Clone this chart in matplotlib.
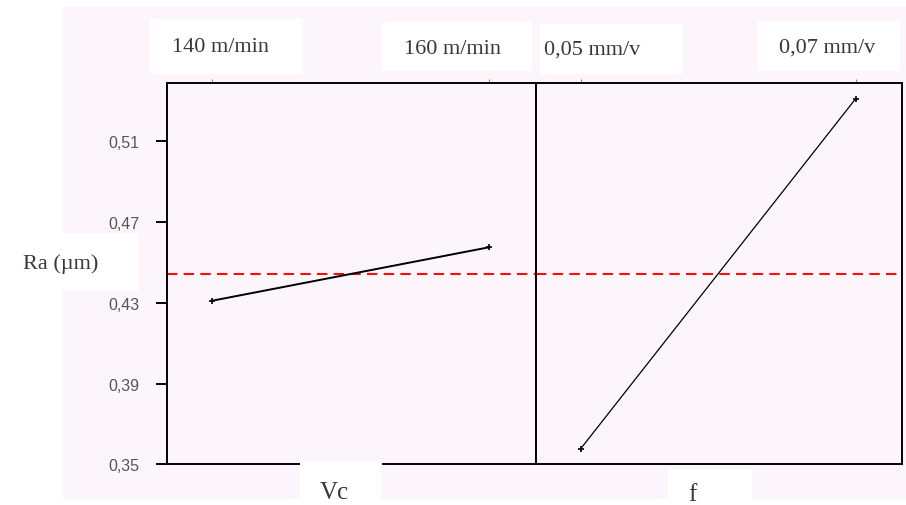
import matplotlib
matplotlib.use("Agg")
import matplotlib.pyplot as plt
from matplotlib.patches import Rectangle

# ---- data ----
vc_levels = ["140 m/min", "160 m/min"]
vc_means = [0.431, 0.4575]
f_levels = ["0,05 mm/v", "0,07 mm/v"]
f_means = [0.3577, 0.531]
grand_mean = 0.4444
y_ticks = [0.35, 0.39, 0.43, 0.47, 0.51]
y_ticklabels = ["0,35", "0,39", "0,43", "0,47", "0,51"]
y_label = "Ra (\u00b5m)"
factor_names = ["Vc", "f"]

W, H = 906, 506
fig = plt.figure(figsize=(W / 100, H / 100), dpi=100)
fig.patch.set_facecolor("white")
PINK = "#fcf5fc"

def fx(x):
    return x / W

def fy(y):
    return 1 - y / H

def box(x0, y0, x1, y1, color="white", z=2):
    fig.add_artist(Rectangle((fx(x0), fy(y1)), fx(x1) - fx(x0), fy(y0) - fy(y1),
                             transform=fig.transFigure, facecolor=color,
                             edgecolor="none", zorder=z))

# pink background panel
box(63, 8, 906, 500, color=PINK, z=-1)

left, mid, right = 167, 536, 902
top, bottom = 84.3, 465.3
ylim = (0.35, 0.5387)
xlim = (-0.1625, 1.169)

ax1 = fig.add_axes([fx(left), fy(bottom), fx(mid) - fx(left), fy(top) - fy(bottom)])
ax2 = fig.add_axes([fx(mid), fy(bottom), fx(right) - fx(mid), fy(top) - fy(bottom)])

serif = ["Liberation Serif", "DejaVu Serif"]
sans = ["Liberation Sans", "DejaVu Sans"]

for ax, vals, lw in [(ax1, vc_means, 1.4), (ax2, f_means, 0.9)]:
    ax.set_facecolor(PINK)
    ax.set_xlim(*xlim)
    ax.set_ylim(*ylim)
    ax.plot([0, 1], vals, color="black", lw=lw, marker="+", ms=4, mew=1.2, zorder=3)
    ax.axhline(grand_mean, color="#ee1111", lw=1.5, dashes=(5, 3), zorder=2)
    for s in ax.spines.values():
        s.set_linewidth(1.4)
        s.set_color("black")
    ax.set_xticks([0, 1])
    ax.tick_params(axis="x", bottom=False, labelbottom=False, top=True,
                   direction="out", length=3, color="#888888", labeltop=False)

ax1.set_yticks(y_ticks)
ax1.set_yticklabels(y_ticklabels, fontfamily=sans, fontsize=11.5, color="#555555")
ax1.tick_params(axis="y", direction="out", length=8, width=1.4, pad=12)
ax2.tick_params(axis="y", left=False, labelleft=False)

# label boxes
box(150, 20, 303, 75)
box(382, 23, 532, 72)
box(540, 25, 683, 75)
box(758, 22, 900, 72)
box(0, 234, 138, 292)
box(300, 462, 382, 506)
box(668, 470, 752, 500)

def ftext(x, y, s, **kw):
    fig.text(fx(x), fy(y), s, fontfamily=serif, fontsize=16, color="#383838",
             ha="center", va="center", zorder=5, **kw)

ftext(220, 47, vc_levels[0])
ftext(453, 50, vc_levels[1])
ftext(592, 50, f_levels[0])
ftext(827, 48, f_levels[1])
ftext(61, 264, y_label)
fig.text(fx(334), fy(482), factor_names[0], fontfamily=serif, fontsize=18,
         color="#383838", ha="center", va="top", zorder=5)
fig.text(fx(692), fy(484), factor_names[1], fontfamily=serif, fontsize=18,
         color="#383838", ha="center", va="top", zorder=5)

fig.savefig("out.png", dpi=100, facecolor=fig.get_facecolor())
